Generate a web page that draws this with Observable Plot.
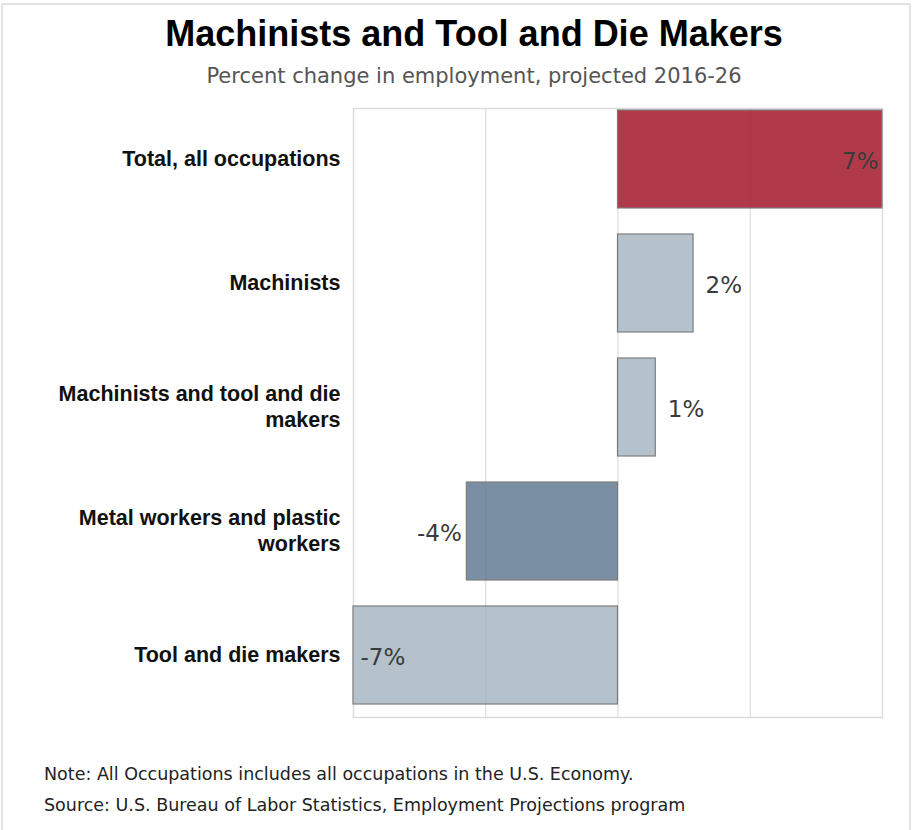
<!DOCTYPE html>
<html>
<head>
<meta charset="utf-8">
<script src="https://cdn.jsdelivr.net/npm/d3@7"></script>
<script src="https://cdn.jsdelivr.net/npm/@observablehq/plot@0.6"></script>
<style>
  html, body { margin: 0; padding: 0; background: #fff; }
  #page { position: relative; width: 915px; height: 830px; overflow: hidden; background: #fff; }
  #frame { position: absolute; left: 1px; top: 3px; width: 910px; height: 840px; border: 2px solid #e2e2e2; box-sizing: border-box; }
  .t { position: absolute; left: 0; white-space: nowrap; }
  #title { top: 16px; width: 948px; text-align: center; font: bold 36px/1 "Liberation Sans", Arial, sans-serif; color: #000; }
  #subtitle { top: 66px; width: 948px; text-align: center; font: 21px/1 "DejaVu Sans", sans-serif; color: #555; }
  .foot { left: 44px; font: 17.5px/1 "DejaVu Sans", sans-serif; color: #222; }
  #note { top: 766px; }
  #source { top: 797px; }
  #chart { position: absolute; left: 0; top: 100px; }
  #chart text.val { text-shadow: 1px 1px 2px rgba(0,0,0,0.35); }
</style>
</head>
<body>
<div id="page">
  <div id="frame"></div>
  <div id="title" class="t">Machinists and Tool and Die Makers</div>
  <div id="subtitle" class="t">Percent change in employment, projected 2016-26</div>
  <div id="chart"></div>
  <div id="note" class="t foot">Note: All Occupations includes all occupations in the U.S. Economy.</div>
  <div id="source" class="t foot">Source: U.S. Bureau of Labor Statistics, Employment Projections program</div>
</div>
<script>
// ---- data ----
const categories = [
  "Total, all occupations",
  "Machinists",
  "Machinists and tool and die makers",
  "Metal workers and plastic workers",
  "Tool and die makers"
];
const values = [7, 2, 1, -4, -7];
const kinds = ["Total", "Detailed", "Detailed", "Broad", "Detailed"];
const gridTicks = [-3.5, 0, 3.5];
const xDomain = [-7, 7];

const data = categories.map((c, i) => ({category: c, value: values[i], kind: kinds[i]}));

function wrap(s, max = 28) {
  const words = s.split(" ");
  const lines = [];
  let cur = "";
  for (const w of words) {
    if (cur && (cur + " " + w).length > max) { lines.push(cur); cur = w; }
    else cur = cur ? cur + " " + w : w;
  }
  if (cur) lines.push(cur);
  return lines.join("\n");
}

const fmt = d => d.value + "%";
const edge = 6;
const valFont = {fontSize: 23, fill: "#3a3a3a", className: "val", text: fmt,
  fontFamily: "'DejaVu Sans', sans-serif", x: "value", y: "category", dy: 2};

const chart = Plot.plot({
  width: 915,
  height: 627,
  marginLeft: 353,
  marginRight: 33,
  marginTop: 8,
  marginBottom: 10,
  style: {background: "transparent", fontFamily: "'Liberation Sans', Arial, sans-serif"},
  x: {domain: xDomain, axis: null},
  y: {domain: categories, paddingInner: 0.21, paddingOuter: 0.06, align: 0.15, axis: null},
  color: {domain: ["Total", "Detailed", "Broad"], range: ["#b03a4a", "#b5c2cb", "#7b8fa4"]},
  marks: [
    Plot.frame({stroke: "#dcdcdc", strokeWidth: 1.5}),
    Plot.ruleX(gridTicks, {stroke: "#e6e6e6", strokeWidth: 1.2}),
    Plot.barX(data, {x: "value", y: "category", fill: "kind", stroke: "#7d7d7d", strokeWidth: 1.2}),
    Plot.ruleX(gridTicks, {stroke: "#000", strokeOpacity: 0.04, strokeWidth: 1.2}),
    Plot.axisY({label: null, tickSize: 0, tickPadding: 13, fontSize: 21.5, fontWeight: "bold", fill: "#111",
      tickFormat: d => wrap(d), lineHeight: 1.21, dy: -2}),
    Plot.text(data.filter(d => d.value >= edge), {...valFont, textAnchor: "end", dx: -4}),
    Plot.text(data.filter(d => d.value > 0 && d.value < edge), {...valFont, textAnchor: "start", dx: 12}),
    Plot.text(data.filter(d => d.value < 0 && d.value > -edge), {...valFont, textAnchor: "end", dx: -5}),
    Plot.text(data.filter(d => d.value <= -edge), {...valFont, textAnchor: "start", dx: 7})
  ]
});
document.getElementById("chart").appendChild(chart);
</script>
</body>
</html>
